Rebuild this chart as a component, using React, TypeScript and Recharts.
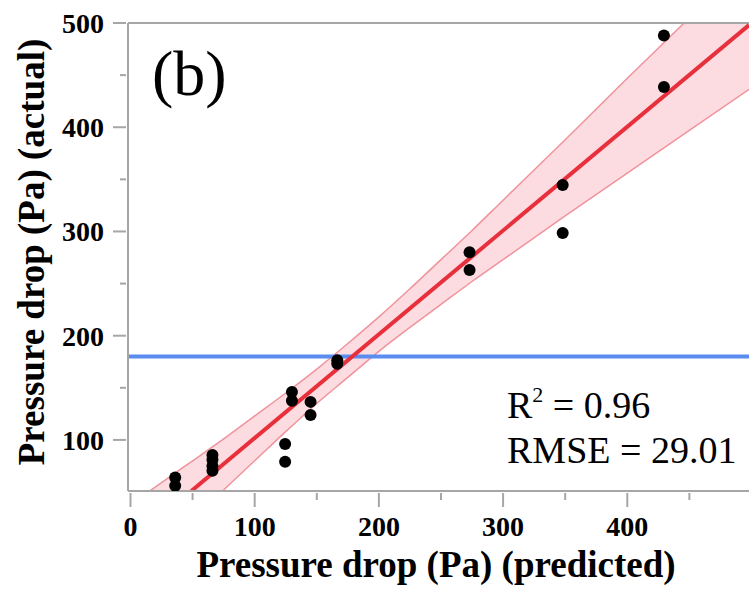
import React from "react";
import { ComposedChart, XAxis, YAxis, Scatter, Line, Area, ReferenceLine } from "recharts";

// measured points: predicted vs actual pressure drop (Pa)
const predicted = [36, 36, 66, 66, 66, 66, 124.5, 124.5, 130, 130, 145, 145, 166.5, 166.5, 273, 273, 348, 348, 429.5, 429.5];
const actual = [64, 56, 85.5, 81, 75, 70.5, 96, 79, 146, 137.5, 136.5, 124, 176.5, 173, 280, 263, 344.5, 298.5, 488, 438.5];

// confidence band of the fit
const bandX = [0, 25, 50, 75, 100, 125, 150, 175, 200, 225, 250, 275, 300, 350, 400, 450, 500];
const bandLow = [-35, -6, 23, 52, 80, 108, 135, 160, 185, 208, 230, 252, 273, 315, 356, 397, 438];
const bandHigh = [38, 59, 80, 101, 123, 145, 168, 192.5, 218, 245, 273, 301, 330, 388, 447, 505, 565];

// fit line end points
const fitX = [49, 498];
const fitY = [51, 498];

// horizontal threshold
const thresholdX = [-2, 498];
const thresholdY = 180;

const xTicks = [0, 50, 100, 150, 200, 250, 300, 350, 400, 450];
const yTicks = [100, 150, 200, 250, 300, 350, 400, 450, 500];

const points = predicted.map((x, i) => ({ x, y: actual[i] }));
const band = bandX.map((x, i) => ({ x, range: [bandLow[i], bandHigh[i]] }));
const fit = fitX.map((x, i) => ({ x, y: fitY[i] }));
const threshold = thresholdX.map((x) => ({ x, y: thresholdY }));

const AXIS = "#a6a6a6";
const SERIF = "'Liberation Serif', 'Times New Roman', serif";

function XTick(props: any) {
  const { x, y, payload } = props;
  const major = payload.value % 100 === 0;
  return (
    <g>
      <line x1={x} x2={x} y1={y} y2={y + (major ? 14 : 7)} stroke={AXIS} strokeWidth={2} />
      {major && (
        <text x={x} y={y + 43} textAnchor="middle" fontFamily={SERIF} fontWeight="bold" fontSize={28} fill="#000">
          {payload.value}
        </text>
      )}
    </g>
  );
}

function YTick(props: any) {
  const { x, y, payload } = props;
  const major = payload.value % 100 === 0;
  return (
    <g>
      <line x1={x} x2={x - (major ? 13 : 6)} y1={y} y2={y} stroke={AXIS} strokeWidth={2} />
      {major && (
        <text x={x - 22} y={y + 10} textAnchor="end" fontFamily={SERIF} fontWeight="bold" fontSize={28} fill="#000">
          {payload.value}
        </text>
      )}
    </g>
  );
}

export default function App() {
  return (
    <div style={{ position: "absolute", left: 0, top: 0, width: 749, height: 591, background: "#fff" }}>
      <ComposedChart width={749} height={591} margin={{ top: 23, right: 0, bottom: 40, left: 68 }}>
        <XAxis
          dataKey="x"
          type="number"
          domain={[-2, 498]}
          ticks={xTicks}
          interval={0}
          allowDataOverflow
          tickSize={0}
          tickLine={false}
          axisLine={{ stroke: AXIS, strokeWidth: 2 }}
          tick={<XTick />}
          height={60}
        />
        <YAxis
          type="number"
          domain={[51, 500]}
          ticks={yTicks}
          interval={0}
          allowDataOverflow
          tickSize={0}
          tickLine={false}
          axisLine={{ stroke: AXIS, strokeWidth: 2 }}
          tick={<YTick />}
          width={60}
        />
        <ReferenceLine y={500} stroke={AXIS} strokeWidth={2} />
        <Line data={threshold} dataKey="y" stroke="#5b8cf0" strokeWidth={4} dot={false} isAnimationActive={false} />
        <Area
          data={band}
          dataKey="range"
          type="monotone"
          fill="#f06070"
          fillOpacity={0.22}
          stroke="#f0939c"
          strokeWidth={1.5}
          isAnimationActive={false}
        />
        <Line data={fit} dataKey="y" stroke="#e8303c" strokeWidth={4} dot={false} isAnimationActive={false} />
        <Scatter
          data={points}
          dataKey="y"
          fill="#000"
          isAnimationActive={false}
          shape={(p: any) => <circle cx={p.cx} cy={p.cy} r={6} fill="#000" />}
        />
        <text x={152} y={95} fontFamily={SERIF} fontSize={64} fill="#000">(b)</text>
        <text x={507} y={418} fontFamily={SERIF} fontSize={38} fill="#000">
          R<tspan dy={-16} fontSize={22}>2</tspan>
          <tspan dy={16}> = 0.96</tspan>
        </text>
        <text x={507} y={463} fontFamily={SERIF} fontSize={38} fill="#000">RMSE = 29.01</text>
        <text x={436} y={577} textAnchor="middle" fontFamily={SERIF} fontWeight="bold" fontSize={37} fill="#000">
          Pressure drop (Pa) (predicted)
        </text>
        <text
          x={0}
          y={0}
          transform="translate(44, 252) rotate(-90)"
          textAnchor="middle"
          fontFamily={SERIF}
          fontWeight="bold"
          fontSize={37}
          fill="#000"
        >
          Pressure drop (Pa) (actual)
        </text>
      </ComposedChart>
    </div>
  );
}
